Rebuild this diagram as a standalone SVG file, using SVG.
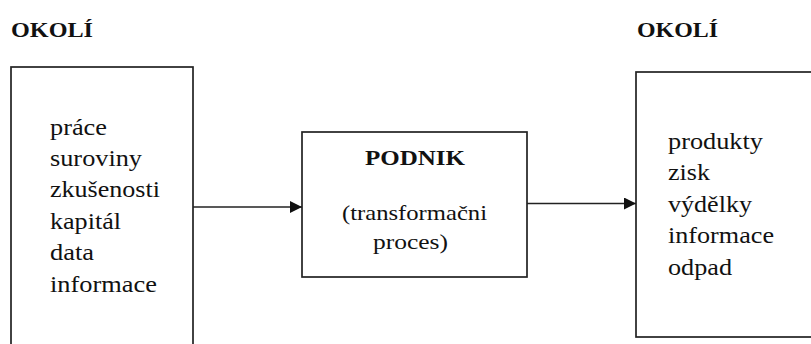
<svg xmlns="http://www.w3.org/2000/svg" width="811" height="344" viewBox="0 0 811 344">
  <style>
    text { font-family: 'Liberation Serif', 'DejaVu Serif', serif; fill: #111111; }
    .box { fill: #ffffff; stroke: #222222; stroke-width: 1.7; }
    .link { fill: none; stroke: #222222; stroke-width: 1.6; }
    .title { font-weight: bold; font-size: 21.5px; }
    .item { font-size: 23px; }
    .mid { font-size: 21.5px; }
  </style>
  <defs>
    <marker id="arrow" viewBox="0 0 12 12" refX="12" refY="6" markerWidth="12" markerHeight="12" markerUnits="userSpaceOnUse" orient="auto">
      <path d="M0,0 L12,6 L0,12 Z" fill="#111111"/>
    </marker>
  </defs>
  <rect width="811" height="344" fill="#ffffff"/>

  <!-- environment label, input side -->
  <g id="label-left">
    <text class="title" x="11" y="37" textLength="82" lengthAdjust="spacingAndGlyphs">OKOLÍ</text>
  </g>

  <!-- environment label, output side -->
  <g id="label-right">
    <text class="title" x="637" y="37" textLength="81" lengthAdjust="spacingAndGlyphs">OKOLÍ</text>
  </g>

  <!-- inputs -->
  <g id="inputs">
    <rect class="box" x="11" y="67" width="182" height="300"/>
    <text class="item" x="50" y="134.5" textLength="57" lengthAdjust="spacingAndGlyphs">práce</text>
    <text class="item" x="50" y="165.9" textLength="92" lengthAdjust="spacingAndGlyphs">suroviny</text>
    <text class="item" x="50" y="197.3" textLength="110" lengthAdjust="spacingAndGlyphs">zkušenosti</text>
    <text class="item" x="50" y="228.7" textLength="71" lengthAdjust="spacingAndGlyphs">kapitál</text>
    <text class="item" x="50" y="260.1" textLength="44" lengthAdjust="spacingAndGlyphs">data</text>
    <text class="item" x="50" y="291.5" textLength="107" lengthAdjust="spacingAndGlyphs">informace</text>
  </g>

  <!-- the enterprise as a transformation process -->
  <g id="podnik">
    <rect class="box" x="302" y="132" width="225" height="145"/>
    <text class="title" x="365" y="165" textLength="100" lengthAdjust="spacingAndGlyphs">PODNIK</text>
    <text class="mid" x="342" y="219.5" textLength="145" lengthAdjust="spacingAndGlyphs">(transformačni</text>
    <text class="mid" x="373" y="249" textLength="75" lengthAdjust="spacingAndGlyphs">proces)</text>
  </g>

  <!-- outputs -->
  <g id="outputs">
    <rect class="box" x="636" y="72" width="200" height="265"/>
    <text class="item" x="668" y="148.5" textLength="95" lengthAdjust="spacingAndGlyphs">produkty</text>
    <text class="item" x="668" y="180" textLength="42" lengthAdjust="spacingAndGlyphs">zisk</text>
    <text class="item" x="668" y="211.5" textLength="84" lengthAdjust="spacingAndGlyphs">výdělky</text>
    <text class="item" x="668" y="243" textLength="106" lengthAdjust="spacingAndGlyphs">informace</text>
    <text class="item" x="668" y="274.5" textLength="64" lengthAdjust="spacingAndGlyphs">odpad</text>
  </g>

  <!-- flows -->
  <g id="connectors">
    <line class="link" x1="193" y1="207" x2="302" y2="207" marker-end="url(#arrow)"/>
    <line class="link" x1="527" y1="203.5" x2="636" y2="203.5" marker-end="url(#arrow)"/>
  </g>
</svg>
